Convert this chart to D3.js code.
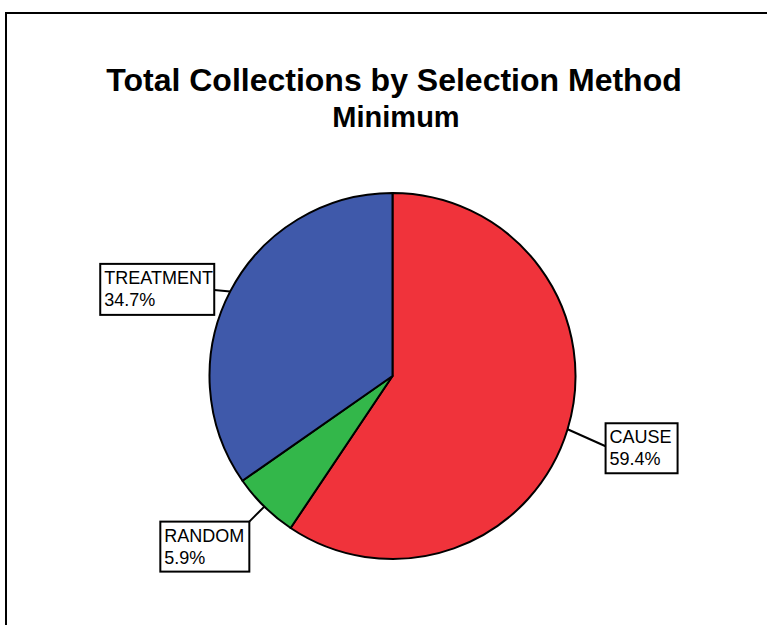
<!DOCTYPE html>
<html>
<head>
<meta charset="utf-8">
<script src="https://cdn.jsdelivr.net/npm/d3@7"></script>
<style>
  html, body { margin: 0; padding: 0; background: #fff; }
  svg { display: block; }
  text { font-family: "Liberation Sans", Arial, sans-serif; }
</style>
</head>
<body>
<svg id="chart" width="767" height="625"></svg>
<script>
// Category data (percent of total collections), drawn clockwise from 12 o'clock
const categories = ["CAUSE", "RANDOM", "TREATMENT"];
const percents = [59.4, 5.9, 34.7];
const sliceColors = ["#F0333B", "#33B74A", "#3F59AA"];

const titleText = "Total Collections by Selection Method";
const subtitleText = "Minimum";

// Callout boxes: offset of box from the slice's rim point, box size, and where the leader meets the box
const callouts = {
  CAUSE:     { dx: 38,   dy: -6,    w: 72,  h: 50, lx: 0,   ly: 23 },
  RANDOM:    { dx: -104, dy: 15,    w: 89,  h: 50, lx: 89,  ly: 0 },
  TREATMENT: { dx: -130, dy: -27.5, w: 114, h: 51, lx: 114, ly: 26 }
};

const svg = d3.select("#chart");

// Outer frame (runs off the right and bottom edges)
svg.append("rect")
  .attr("x", 6).attr("y", 13)
  .attr("width", 900).attr("height", 800)
  .attr("fill", "none").attr("stroke", "#000").attr("stroke-width", 2);

// Titles
svg.append("text")
  .attr("x", 394).attr("y", 91)
  .attr("text-anchor", "middle")
  .attr("font-size", 32).attr("font-weight", "bold")
  .text(titleText);
svg.append("text")
  .attr("x", 396).attr("y", 127)
  .attr("text-anchor", "middle")
  .attr("font-size", 29).attr("font-weight", "bold")
  .text(subtitleText);

// Pie
const cx = 392.5, cy = 376, R = 183;
const data = categories.map((c, i) => ({ name: c, value: percents[i], color: sliceColors[i] }));
const pie = d3.pie().value(d => d.value).sort(null);
const arcs = pie(data);
const arc = d3.arc().innerRadius(0).outerRadius(R);

const g = svg.append("g").attr("transform", `translate(${cx},${cy})`);
g.selectAll("path.slice")
  .data(arcs)
  .join("path")
  .attr("class", "slice")
  .attr("d", arc)
  .attr("fill", d => d.data.color)
  .attr("stroke", "#000")
  .attr("stroke-width", 2)
  .attr("stroke-linejoin", "round");

// Callouts with leader lines
const labels = svg.append("g");
arcs.forEach(a => {
  const mid = (a.startAngle + a.endAngle) / 2;
  const ax = cx + R * Math.sin(mid);
  const ay = cy - R * Math.cos(mid);
  const c = callouts[a.data.name];
  const bx = ax + c.dx, by = ay + c.dy;

  labels.append("line")
    .attr("x1", ax).attr("y1", ay)
    .attr("x2", bx + c.lx).attr("y2", by + c.ly)
    .attr("stroke", "#000").attr("stroke-width", 2);

  labels.append("rect")
    .attr("x", bx).attr("y", by)
    .attr("width", c.w).attr("height", c.h)
    .attr("fill", "#fff").attr("stroke", "#000").attr("stroke-width", 2);

  labels.append("text")
    .attr("x", bx + 4).attr("y", by + 20)
    .attr("font-size", 18)
    .text(a.data.name);
  labels.append("text")
    .attr("x", bx + 4).attr("y", by + 42)
    .attr("font-size", 18)
    .text(a.data.value.toFixed(1) + "%");
});
</script>
</body>
</html>
